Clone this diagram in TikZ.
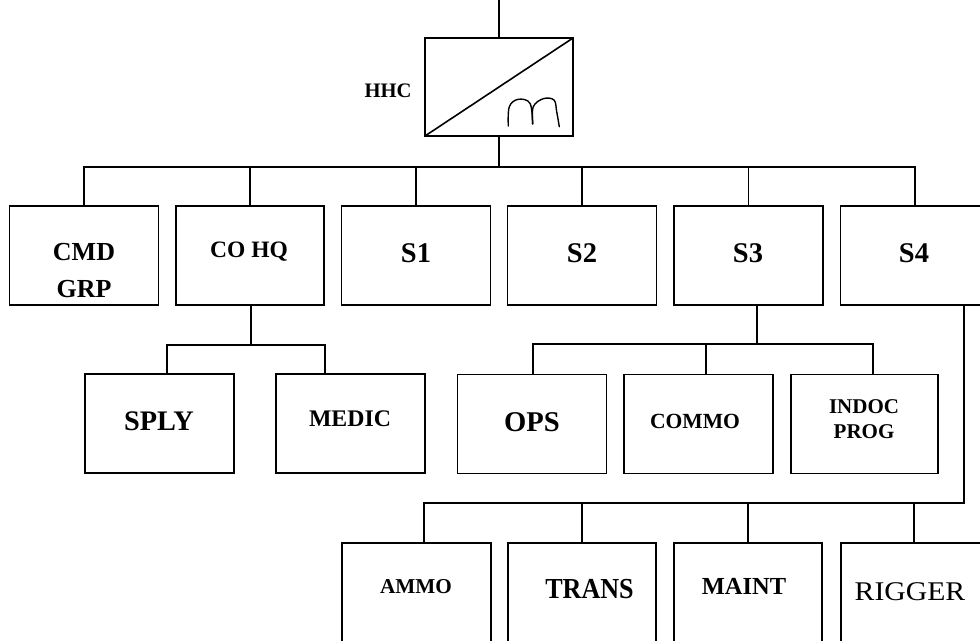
\documentclass[tikz,border=0pt]{standalone}
\usepackage{fontspec}
\setmainfont{Liberation Serif}
\usetikzlibrary{calc}
\begin{document}
\begin{tikzpicture}[x=1pt,y=-1pt,
  box/.style={draw, line width=1.7pt, minimum width=149pt, minimum height=99pt, inner sep=0pt, outer sep=0pt},
  lbl/.style={anchor=base, inner sep=0pt, font=\bfseries\fontsize{#1}{#1}\selectfont},
  rlbl/.style={anchor=base, inner sep=0pt, font=\fontsize{#1}{#1}\selectfont},
  wire/.style={line width=1.6pt}]
\useasboundingbox (0,0) rectangle (980,640);
\clip (0,0) rectangle (980,640);

% HHC
\node[box, minimum width=148pt, minimum height=98pt] (hhc) at (499,87) {};
\draw[line width=1.6pt] (hhc.south west) -- (hhc.north east);
\draw[line width=1.4pt, line cap=round, line join=round]
  plot[smooth, tension=0.6] coordinates {(508.3,126) (509.3,106.7) (518.3,99.3) (530,103.3) (532.7,124)};
\draw[line width=1.4pt, line cap=round, line join=round]
  plot[smooth, tension=0.6] coordinates {(532.7,124) (533.3,106.7) (543.3,98.7) (554,100) (556.7,111.7) (559.3,126.7)};
\node[lbl=20.6] (hhcT) at (388,97) {HHC};

% top row
\node[box] (cmd) at (84,255.5) {};
\node[box, minimum width=148pt] (cohq) at (250,255.5) {};
\node[box] (s1) at (416,255.5) {};
\node[box] (s2) at (582,255.5) {};
\node[box] (s3) at (748.5,255.5) {};
\node[box] (s4) at (915,255.5) {};

\node[lbl=26] (cmdA) at (84,260.5) {CMD};
\node[lbl=26] (cmdB) at (84,297) {GRP};
\node[lbl=23.5] (cohqT) at (249,257) {CO HQ};
\node[lbl=28.5] (s1T) at (416,262) {S1};
\node[lbl=28.5] (s2T) at (582,262) {S2};
\node[lbl=28.5] (s3T) at (748,262) {S3};
\node[lbl=28.5] (s4T) at (914,262) {S4};

% second row
\node[box] (sply) at (159.5,423.5) {};
\node[box] (medic) at (350.5,423.5) {};
\node[box] (ops) at (532,424) {};
\node[box] (commo) at (698.5,424) {};
\node[box, minimum width=147pt] (indoc) at (864.5,424) {};

\node[lbl=28.3] (splyT) at (159,430) {SPLY};
\node[lbl=23.8] (medicT) at (350,426.7) {MEDIC};
\node[lbl=28.6] (opsT) at (532,431.7) {OPS};
\node[lbl=21.6] (commoT) at (695,428) {COMMO};
\node[lbl=21] (indocA) at (864,413.3) {INDOC};
\node[lbl=21] (indocB) at (864,438.3) {PROG};

% bottom row
\node[box] (ammo) at (416.5,592.5) {};
\node[box, minimum width=148pt] (trans) at (582,592.5) {};
\node[box, minimum width=148pt] (maint) at (748,592.5) {};
\node[box] (rigger) at (915.5,592.5) {};

\node[lbl=21.2] (ammoT) at (416,593.3) {AMMO};
\node[lbl=29] (transT) at (589.5,598.3) {\scalebox{0.9}[1]{TRANS}};
\node[lbl=24.5] (maintT) at (744,594.3) {MAINT};
\node[rlbl=27] (riggerT) at (910,600) {\scalebox{1.1}[1]{RIGGER}};

% junction coordinates
\coordinate (topend) at (499,0);
\coordinate (bus) at (499,167);
\coordinate (coJ) at (251,345);
\coordinate (spJ) at (167,345);
\coordinate (meJ) at (325,345);
\coordinate (s3J) at (757,344);
\coordinate (opJ) at (533,344);
\coordinate (cmJ) at (706,344);
\coordinate (inJ) at (873,344);
\coordinate (s4J) at (964,503);
\coordinate (amJ) at (424,503);
\coordinate (trJ) at (582,503);
\coordinate (maJ) at (748,503);
\coordinate (riJ) at (914,503);

% connectors
\draw[wire] (topend) -- (hhc.north);
\draw[wire] (hhc.south) -- (bus);
\draw[wire] (cmd.north) -- (cmd.north |- bus) -- (s4.north |- bus) -- (s4.north);
\foreach \n in {cohq,s1,s2,s3} \draw[wire] (\n.north) -- (\n.north |- bus);

\draw[wire] (coJ |- cohq.south) -- (coJ);
\draw[wire] (spJ |- sply.north) -- (spJ) -- (meJ) -- (meJ |- medic.north);

\draw[wire] (s3J |- s3.south) -- (s3J);
\draw[wire] (opJ |- ops.north) -- (opJ) -- (inJ) -- (inJ |- indoc.north);
\draw[wire] (cmJ) -- (cmJ |- commo.north);

\draw[wire] (s4J |- s4.south) -- (s4J) -- (amJ) -- (amJ |- ammo.north);
\draw[wire] (trJ) -- (trJ |- trans.north);
\draw[wire] (maJ) -- (maJ |- maint.north);
\draw[wire] (riJ) -- (riJ |- rigger.north);
\end{tikzpicture}
\end{document}
